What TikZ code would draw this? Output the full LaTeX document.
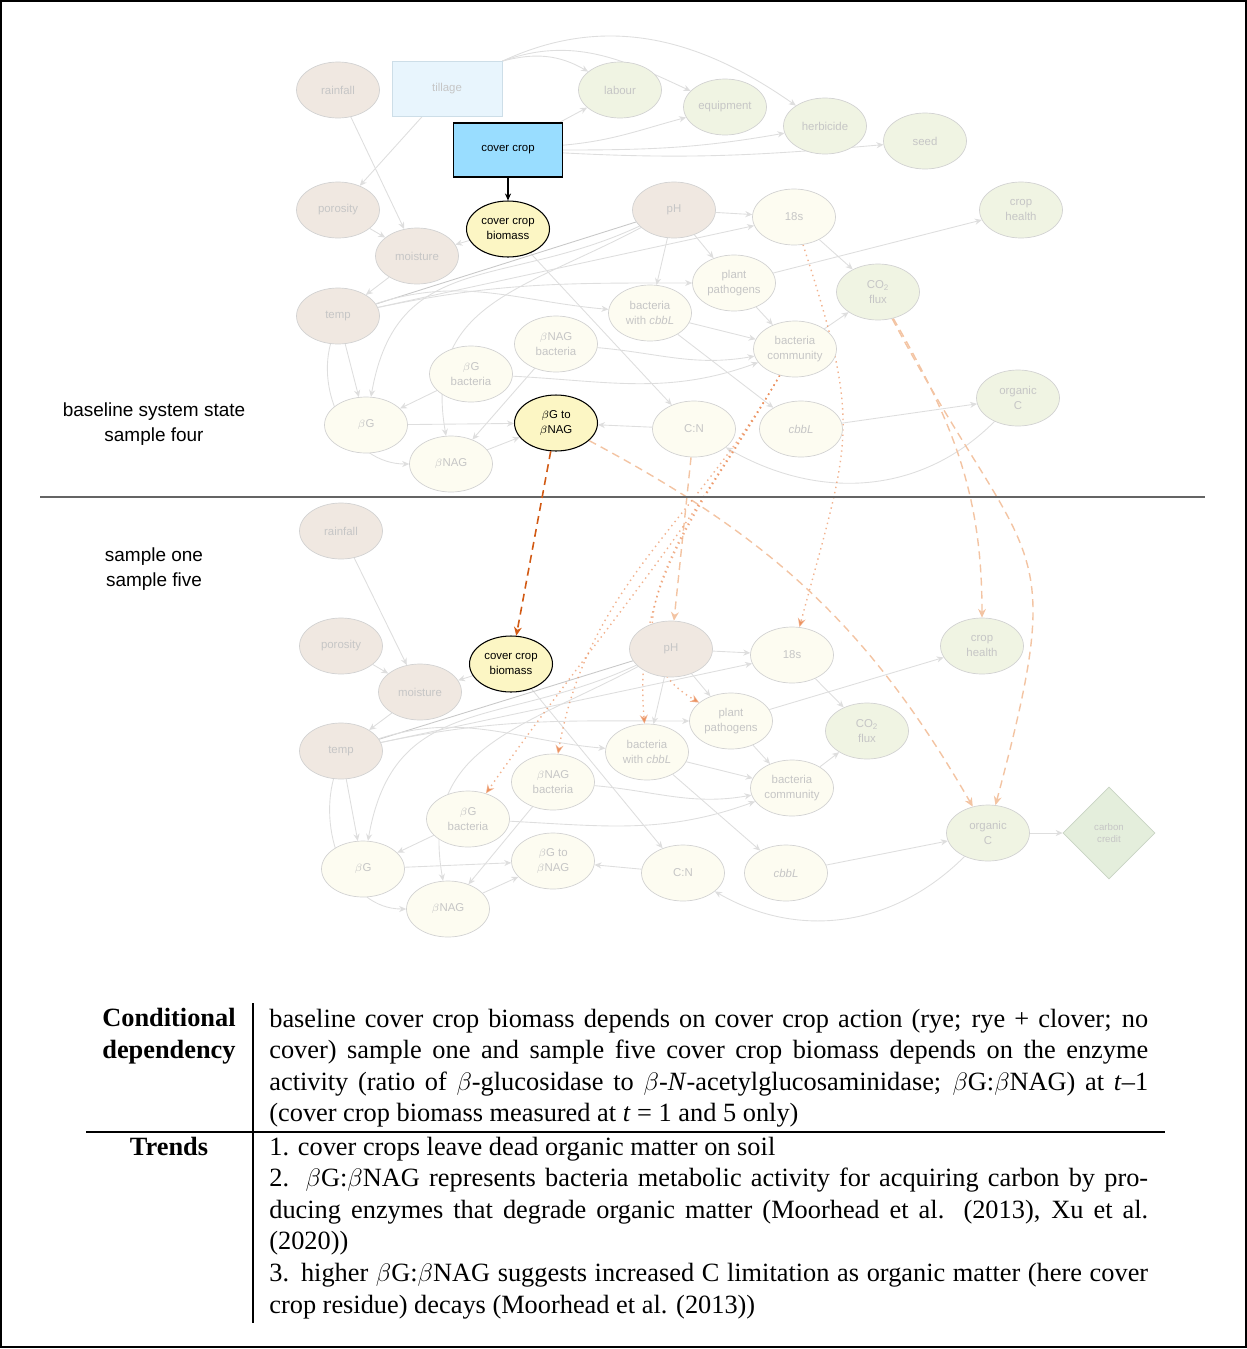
\documentclass[tikz,border=0pt]{standalone}
\usepackage{fontspec}
\setmainfont{Liberation Serif}
\setsansfont{Liberation Sans}
\usetikzlibrary{arrows.meta, positioning, shapes.geometric, backgrounds}

\definecolor{nodeline}{RGB}{210,210,210}
\definecolor{fadetext}{RGB}{198,198,198}
\definecolor{brownfill}{RGB}{240,232,225}
\definecolor{paleyel}{RGB}{253,252,241}
\definecolor{greenfill}{RGB}{240,244,227}
\definecolor{tillfill}{RGB}{232,245,253}
\definecolor{tillline}{RGB}{205,222,232}
\definecolor{ccfill}{RGB}{153,221,255}
\definecolor{hiyel}{RGB}{252,246,196}
\definecolor{creditfill}{RGB}{228,238,220}
\definecolor{creditline}{RGB}{200,212,195}
\definecolor{linkgray}{RGB}{222,222,222}
\definecolor{pairgray}{RGB}{200,200,200}
\definecolor{darkorange}{RGB}{210,90,20}
\definecolor{lightorange}{RGB}{243,196,163}
\definecolor{dotorange}{RGB}{235,145,95}

\tikzset{
  var/.style={ellipse, draw=nodeline, minimum width=1.66cm, minimum height=1.12cm,
    inner sep=0pt, align=center, text=fadetext,
    font=\sffamily\fontsize{6.5}{8.6}\selectfont},
  envvar/.style={var, fill=brownfill},
  biovar/.style={var, fill=paleyel},
  outvar/.style={var, fill=greenfill},
  focusvar/.style={var, fill=hiyel, draw=black, text=black, line width=0.6pt},
  actbox/.style={rectangle, draw=tillline, fill=tillfill, minimum width=2.2cm,
    minimum height=1.1cm, text=fadetext, font=\sffamily\fontsize{6.5}{8.6}\selectfont},
  ccbox/.style={rectangle, draw=black, fill=ccfill, minimum width=2.18cm,
    minimum height=1.08cm, line width=0.6pt, font=\sffamily\fontsize{6.5}{8.6}\selectfont},
  creditbox/.style={diamond, draw=creditline, fill=creditfill, aspect=1,
    minimum width=1.84cm, minimum height=1.84cm, inner sep=0pt, align=center,
    text=fadetext, font=\sffamily\fontsize{5.5}{6.8}\selectfont},
  link/.style={draw=linkgray, line width=0.5pt, -{Stealth[length=4pt,width=3.5pt]}},
  pairline/.style={draw=pairgray, line width=0.5pt},
  keyarrow/.style={draw=black, line width=0.6pt, -{Stealth[length=4pt,width=3.5pt]}},
  keydash/.style={draw=darkorange, line width=0.9pt, dash pattern=on 4.5pt off 3pt,
    -{Stealth[length=5pt,width=4.5pt]}},
  crossdash/.style={draw=lightorange, line width=0.8pt, dash pattern=on 4.5pt off 3pt,
    -{Stealth[length=5pt,width=4.5pt]}},
  crossdot/.style={draw=dotorange, draw opacity=0.7, line width=0.8pt,
    dash pattern=on 0.8pt off 2.2pt, -{Stealth[length=5pt,width=4.5pt]}},
  sidelab/.style={align=center, font=\sffamily\fontsize{10.8}{14.2}\selectfont},
  tabhead/.style={align=center, font=\bfseries\fontsize{15}{18}\selectfont, inner sep=0pt},
  tabtext/.style={text width=17.58cm, align=justify, inner sep=0pt,
    font=\fontsize{15}{18}\selectfont},
  tabrule/.style={draw=black, line width=0.6pt}
}

\begin{document}
\begin{tikzpicture}[x=0.02cm, y=0.02cm]
  \useasboundingbox (0,0) rectangle (1247,-1349);
  \draw[line width=0.6pt] (1,-1) rectangle (1246,-1347);

  % baseline system state, sample four
  \node[envvar] (train) at (338,-90) {rainfall};
  \node[actbox] (ttill) at (447,-89) {tillage};
  \node[outvar] (tlab) at (620,-90) {labour};
  \node[outvar] (tequip) at (725,-107) {equipment};
  \node[outvar] (therb) at (825,-126) {herbicide};
  \node[outvar] (tseed) at (925,-141) {seed};
  \node[ccbox] (tcc) at (508,-150) {cover crop};
  \node[focusvar] (tccb) at (508,-229) {cover crop\\biomass};
  \node[envvar] (tpor) at (338,-210) {porosity};
  \node[envvar] (tmoist) at (417,-256) {moisture};
  \node[envvar] (ttemp) at (338,-316) {temp};
  \node[envvar] (tph) at (674,-210) {pH};
  \node[biovar] (t18s) at (794,-217) {18s};
  \node[outvar] (tcrop) at (1021,-210) {crop\\health};
  \node[biovar] (tpath) at (734,-283) {plant\\pathogens};
  \node[outvar] (tco2) at (878,-292) {CO\textsubscript{2}\\flux};
  \node[biovar] (tcbbLbac) at (650,-313) {bacteria\\with \textit{cbbL}};
  \node[biovar] (tnagbac) at (556,-344) {$\beta$NAG\\bacteria};
  \node[biovar] (tcomm) at (795,-349) {bacteria\\community};
  \node[biovar] (tgbac) at (471,-374) {$\beta$G\\bacteria};
  \node[outvar] (torgc) at (1018,-398) {organic\\C};
  \node[biovar] (tbg) at (366,-425) {$\beta$G};
  \node[focusvar] (tratio) at (556,-423) {$\beta$G to\\$\beta$NAG};
  \node[biovar] (tcn) at (694,-429) {C:N};
  \node[biovar] (tcbbL) at (801,-429) {\textit{cbbL}};
  \node[biovar] (tnag) at (451,-464) {$\beta$NAG};

  % sample one, sample five
  \node[envvar] (brain) at (341,-531) {rainfall};
  \node[envvar] (bpor) at (341,-646) {porosity};
  \node[envvar] (bmoist) at (420,-692) {moisture};
  \node[envvar] (btemp) at (341,-751) {temp};
  \node[focusvar] (bccb) at (511,-664) {cover crop\\biomass};
  \node[envvar] (bph) at (671,-649) {pH};
  \node[biovar] (b18s) at (792,-655) {18s};
  \node[outvar] (bcrop) at (982,-646) {crop\\health};
  \node[biovar] (bpath) at (731,-721) {plant\\pathogens};
  \node[outvar] (bco2) at (867,-731) {CO\textsubscript{2}\\flux};
  \node[biovar] (bcbbLbac) at (647,-752) {bacteria\\with \textit{cbbL}};
  \node[biovar] (bnagbac) at (553,-782) {$\beta$NAG\\bacteria};
  \node[biovar] (bcomm) at (792,-788) {bacteria\\community};
  \node[biovar] (bgbac) at (468,-819) {$\beta$G\\bacteria};
  \node[outvar] (borgc) at (988,-833) {organic\\C};
  \node[creditbox] (bcredit) at (1109,-833) {carbon\\credit};
  \node[biovar] (bbg) at (363,-869) {$\beta$G};
  \node[biovar] (bratio) at (553,-861) {$\beta$G to\\$\beta$NAG};
  \node[biovar] (bcn) at (683,-873) {C:N};
  \node[biovar] (bcbbL) at (786,-873) {\textit{cbbL}};
  \node[biovar] (bnag) at (448,-909) {$\beta$NAG};

  % side labels and divider
  \node[sidelab] (toplab) at (154,-424) {baseline system state\\sample four};
  \node[sidelab] (botlab) at (154,-569) {sample one\\sample five};
  \draw[draw={rgb,255:red,100;green,100;blue,100}, line width=0.8pt] (40,-497) -- (1205,-497);

  % table
  \node[tabhead, anchor=base] (condhead) at (169,-1058) {Conditional\\dependency};
  \node[tabhead, anchor=base] (trendhead) at (169,-1155) {Trends};
  \node[tabtext, anchor=base west] (condtext) at (269,-1027)
    {baseline cover crop biomass depends on cover crop action (rye; rye + clover; no\linebreak
     cover) sample one and sample five cover crop biomass depends on the enzyme\linebreak
     activity (ratio of $\beta$-glucosidase to $\beta$-\textit{N}-acetylglucosaminidase; $\beta$G:$\beta$NAG) at \textit{t}--1\linebreak
     (cover crop biomass measured at \textit{t} = 1 and 5 only)};
  \node[tabtext, anchor=base west] (trendtext) at (269,-1155)
    {1. cover crops leave dead organic matter on soil\\
     2.  $\beta$G:$\beta$NAG represents bacteria metabolic activity for acquiring carbon by pro-\linebreak
     ducing enzymes that degrade organic matter (Moorhead et al.  (2013), Xu et al.\linebreak
     (2020))\\
     3. higher $\beta$G:$\beta$NAG suggests increased C limitation as organic matter (here cover\linebreak
     crop residue) decays (Moorhead et al. (2013))};
  \draw[tabrule] (253,-1003) -- (253,-1323);
  \draw[tabrule] (86,-1132) -- (1165,-1132);

  % Arrows
  \begin{scope}[on background layer]
    \foreach \p in {t,b} {
      \foreach \a/\b in {rain/moist, por/moist, ccb/moist, moist/temp, ccb/cn,
          temp/18s, temp/bg, ph/18s, ph/path, ph/cbbLbac, 18s/co2, path/comm,
          path/crop, cbbLbac/comm, cbbLbac/cbbL, comm/co2, gbac/bg, nagbac/nag,
          bg/ratio, nag/ratio, cn/ratio, cbbL/orgc}
        \draw[link] (\p\a) -- (\p\b);
      \draw[pairline] (\p temp) -- (\p ph);
      \draw[link] (\p temp) to[out=12,in=180] (\p path);
      \draw[link] (\p temp) to[out=18,in=175] (\p cbbLbac);
      \draw[link] (\p temp) to[out=255,in=180] (\p nag);
      \draw[link] (\p ph) to[out=205,in=80,looseness=1.2] (\p bg);
      \draw[link] (\p ph) to[out=208,in=100,looseness=1.2] (\p nag);
      \draw[link] (\p nagbac) to[out=-5,in=190] (\p comm);
      \draw[link] (\p gbac) to[out=-3,in=200] (\p comm);
      \draw[link] (\p orgc) to[out=225,in=-30] (\p cn);
    }
    \draw[link] (ttill.north east) to[out=15,in=150] (tlab);
    \draw[link] (ttill.north east) to[out=20,in=155] (tequip);
    \draw[link] (ttill.north east) to[out=25,in=145] (therb);
    \draw[link] (ttill) -- (tpor);
    \draw[link] (tcc) -- (tlab);
    \draw[link] (tcc) to[out=5,in=195] (tequip);
    \draw[link] (tcc) to[out=0,in=190] (therb);
    \draw[link] (tcc) to[out=-3,in=185] (tseed);
    \draw[link] (borgc) -- (bcredit);

    \draw[crossdash] (tratio) to[out=-28,in=120] (borgc);
    \draw[crossdash] (tcn) -- (bph);
    \draw[crossdash] (tco2) to[out=-60,in=90] (bcrop);
    \draw[crossdash] (tco2) to[out=-62,in=75,looseness=1.5] (borgc);
    \draw[crossdot] (t18s) to[out=-72,in=75,looseness=1.3] (b18s);
    \foreach \n/\ang in {cbbLbac/95, path/150, nagbac/80, gbac/55}
      \draw[crossdot] (tcomm) to[out=240,in=\ang] (b\n);
  \end{scope}
  \draw[keyarrow] (tcc) -- (tccb);
  \draw[keydash] (tratio) -- (bccb);
\end{tikzpicture}
\end{document}
